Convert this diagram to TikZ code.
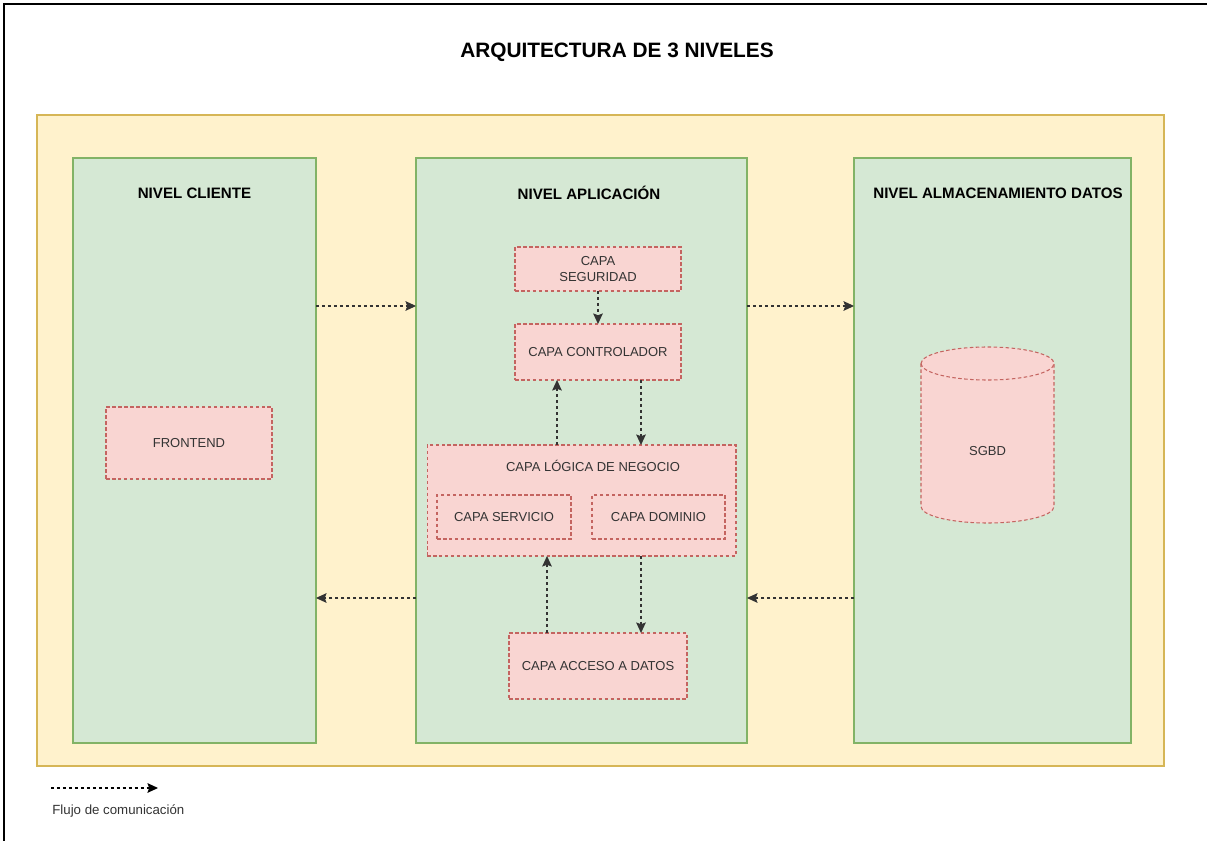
\documentclass[tikz,border=0pt]{standalone}
\usepackage{fontspec}
\setmainfont{Liberation Sans}
\usetikzlibrary{arrows.meta}
\definecolor{ylfill}{HTML}{FFF2CC}
\definecolor{yldraw}{HTML}{D6B656}
\definecolor{grfill}{HTML}{D5E8D4}
\definecolor{grdraw}{HTML}{82B366}
\definecolor{rdfill}{HTML}{F9D5D2}
\definecolor{rddraw}{HTML}{C46460}
\definecolor{txt}{HTML}{333333}
\tikzset{
  container/.style={draw=yldraw, fill=ylfill, line width=0.7pt, inner sep=0pt, outer sep=0pt},
  level/.style={draw=grdraw, fill=grfill, line width=0.7pt, inner sep=0pt, outer sep=0pt, minimum height=11.7cm},
  layer/.style={draw=rddraw, fill=rdfill, line width=0.6pt, dash pattern=on 2pt off 1.4pt, inner sep=0pt, outer sep=0pt, text=txt, font=\fontsize{7.4}{8.6}\selectfont, align=center},
  leveltitle/.style={font=\bfseries\fontsize{8.6}{10}\selectfont, inner sep=0pt},
  flow/.style={draw=txt, line width=0.6pt, dash pattern=on 1.7pt off 1.7pt, -{Stealth[length=6pt,width=5.5pt,inset=1pt]}},
}
\begin{document}
\begin{tikzpicture}[x=0.02cm, y=-0.02cm]
\useasboundingbox (0,0) rectangle (1207,841);
\draw[line width=1pt] (4,841) -- (4,4) -- (1207,4);
\node[font=\bfseries\fontsize{11.85}{14}\selectfont, inner sep=0pt] (title) at (617,52) {ARQUITECTURA DE 3 NIVELES};
\node[container, minimum width=22.54cm, minimum height=13.02cm] (cont) at (600.5,440.5) {};
\node[level, minimum width=4.86cm] (cliente) at (194.5,450.5) {};
\node[level, minimum width=6.62cm] (aplic) at (581.5,450.5) {};
\node[level, minimum width=5.54cm] (almac) at (992.5,450.5) {};
\node[leveltitle] (tcliente) at (194.5,193) {NIVEL CLIENTE};
\node[leveltitle] (taplic) at (589,193) {NIVEL APLICACIÓN};
\node[leveltitle] (talmac) at (998,193) {NIVEL ALMACENAMIENTO DATOS};
% layers
\node[layer, minimum width=3.32cm, minimum height=1.44cm] (frontend) at (189,443) {FRONTEND};
\node[layer, minimum width=3.32cm, minimum height=0.88cm] (seg) at (598,269) {CAPA\\SEGURIDAD};
\node[layer, minimum width=3.32cm, minimum height=1.12cm] (ctrl) at (598,352) {CAPA CONTROLADOR};
\node[layer, minimum width=6.18cm, minimum height=2.22cm] (logica) at (581.5,500.5) {};
\node[layer, inner sep=0pt, fill=none, draw=none] (tlogica) at (593,466) {CAPA LÓGICA DE NEGOCIO};
\node[layer, minimum width=2.68cm, minimum height=0.88cm] (serv) at (504,517) {CAPA SERVICIO};
\node[layer, minimum width=2.66cm, minimum height=0.88cm] (dom) at (658.5,517) {CAPA DOMINIO};
\node[layer, minimum width=3.56cm, minimum height=1.32cm] (acceso) at (598,666) {CAPA ACCESO A DATOS};
% cylinder
\draw[draw=rddraw, fill=rdfill, line width=0.6pt, dash pattern=on 2pt off 1.4pt]
  (921,363.5) -- (921,506.5) arc[start angle=180, end angle=360, x radius=1.33cm, y radius=0.33cm]
  -- (1054,363.5) arc[start angle=0, end angle=180, x radius=1.33cm, y radius=0.33cm] -- cycle;
\draw[draw=rddraw, line width=0.6pt, dash pattern=on 2pt off 1.4pt]
  (921,363.5) arc[start angle=180, end angle=360, x radius=1.33cm, y radius=0.33cm];
\node[text=txt, font=\fontsize{7.4}{8.6}\selectfont, inner sep=0pt] (sgbd) at (987.5,451) {SGBD};
% flow arrows
\coordinate (r1) at (0,306);
\coordinate (r2) at (0,598);
\coordinate (c557) at (557,0);
\coordinate (c641) at (641,0);
\coordinate (c547) at (547,0);
\draw[flow] (cliente.east |- r1) -- (aplic.west |- r1);
\draw[flow] (aplic.east |- r1) -- (almac.west |- r1);
\draw[flow] (almac.west |- r2) -- (aplic.east |- r2);
\draw[flow] (aplic.west |- r2) -- (cliente.east |- r2);
\draw[flow] (seg.south) -- (ctrl.north);
\draw[flow] (logica.north -| c557) -- (ctrl.south -| c557);
\draw[flow] (ctrl.south -| c641) -- (logica.north -| c641);
\draw[flow] (acceso.north -| c547) -- (logica.south -| c547);
\draw[flow] (logica.south -| c641) -- (acceso.north -| c641);
% legend
\coordinate (l1) at (51,788);
\coordinate (l2) at (158,788);
\draw[flow, draw=black] (l1) -- (l2);
\node[anchor=west, text=txt, font=\fontsize{7.55}{8.6}\selectfont, inner sep=0pt] (legend) at (52,811) {Flujo de comunicación};
\end{tikzpicture}
\end{document}
